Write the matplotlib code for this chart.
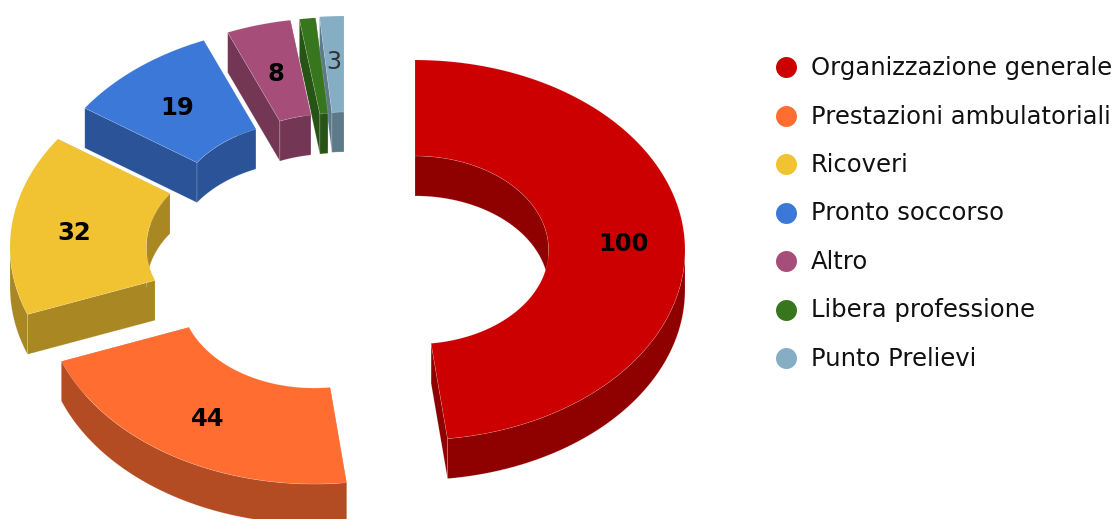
import matplotlib
matplotlib.use('Agg')
import matplotlib.pyplot as plt
import numpy as np

categories = ['Organizzazione generale', 'Prestazioni ambulatoriali', 'Ricoveri',
              'Pronto soccorso', 'Altro', 'Libera professione', 'Punto Prelievi']
values = [100, 44, 32, 19, 8, 2, 3]
top_colors = ['#cc0000', '#ff6d31', '#f1c232', '#3c78d8', '#a64d79', '#38761d', '#85aec5']
side_colors = ['#8f0000', '#b34c22', '#a98823', '#2a5497', '#743655', '#275314', '#5d7a8a']

# pixel layout of the pie
CX, CY = 415, 250
RX, RY = 270, 190
HOLE = 0.495
DEPTH = 40
offsets = [(0, 0), (-101, 44), (-135, -3), (-108, -34), (-84, -42), (-75, -43), (-71, -44)]


def ring(a0, a1, rx, ry, dx, dy):
    # points along an ellipse, angles in degrees clockwise from 12 o'clock
    t = np.radians(np.linspace(a0, a1, max(int(abs(a1 - a0) * 2), 2)))
    return np.column_stack([CX + dx + rx * np.sin(t), CY + dy - ry * np.cos(t)])


def wall(ax, pts, color):
    lower = pts[::-1] + [0, DEPTH]
    ax.fill(*np.vstack([pts, lower]).T, fc=color, ec=(1, 1, 1, 0.25), lw=0.5)


def wedge(ax, a0, a1, dx, dy, top, side):
    outer = ring(a0, a1, RX, RY, dx, dy)
    inner = ring(a0, a1, RX * HOLE, RY * HOLE, dx, dy)

    # cut faces go first so the curved walls sit over them
    wall(ax, np.array([inner[0], outer[0]]), side)
    wall(ax, np.array([inner[-1], outer[-1]]), side)

    # inner wall only shows on the far half, outer wall on the near half
    lo, hi = max(a0, 270), a1
    if hi > lo:
        wall(ax, ring(lo, hi, RX * HOLE, RY * HOLE, dx, dy), side)
    if a0 < 90:
        wall(ax, ring(a0, min(a1, 90), RX * HOLE, RY * HOLE, dx, dy), side)

    lo, hi = max(a0, 90), min(a1, 270)
    if hi > lo:
        wall(ax, ring(lo, hi, RX, RY, dx, dy), side)

    ax.fill(*np.vstack([outer, inner[::-1]]).T, fc=top, ec=(1, 1, 1, 0.2), lw=0.4)


fig = plt.figure(figsize=(11.2, 5.19), dpi=100)
ax = fig.add_axes([0, 0, 1, 1])
ax.set_xlim(0, 1120)
ax.set_ylim(519, 0)
ax.axis('off')

angles = np.cumsum([0] + values) / sum(values) * 360

for i in range(len(values) - 1, -1, -1):
    dx, dy = offsets[i]
    wedge(ax, angles[i], angles[i + 1], dx, dy, top_colors[i], side_colors[i])

for i, v in enumerate(values):
    if v < 3:
        continue
    mid = np.radians((angles[i] + angles[i + 1]) / 2)
    x = CX + offsets[i][0] + RX * 0.77 * np.sin(mid)
    y = CY + offsets[i][1] - RY * 0.75 * np.cos(mid)
    if v == 3:
        ax.text(x - 1, y - 2, str(v), ha='center', va='center', fontsize=17, color='#333333')
    else:
        ax.text(x + 1, y + 3, str(v), ha='center', va='center', fontsize=17.5, fontweight='bold', color='black')

# legend
for i, name in enumerate(categories):
    y = 67 + i * 48.5
    ax.scatter([786], [y], s=228, color=top_colors[i], linewidths=0, clip_on=False)
    ax.text(811, y + 1, name, ha='left', va='center', fontsize=17.5, color='#111111')

fig.savefig('out.png', dpi=100)
